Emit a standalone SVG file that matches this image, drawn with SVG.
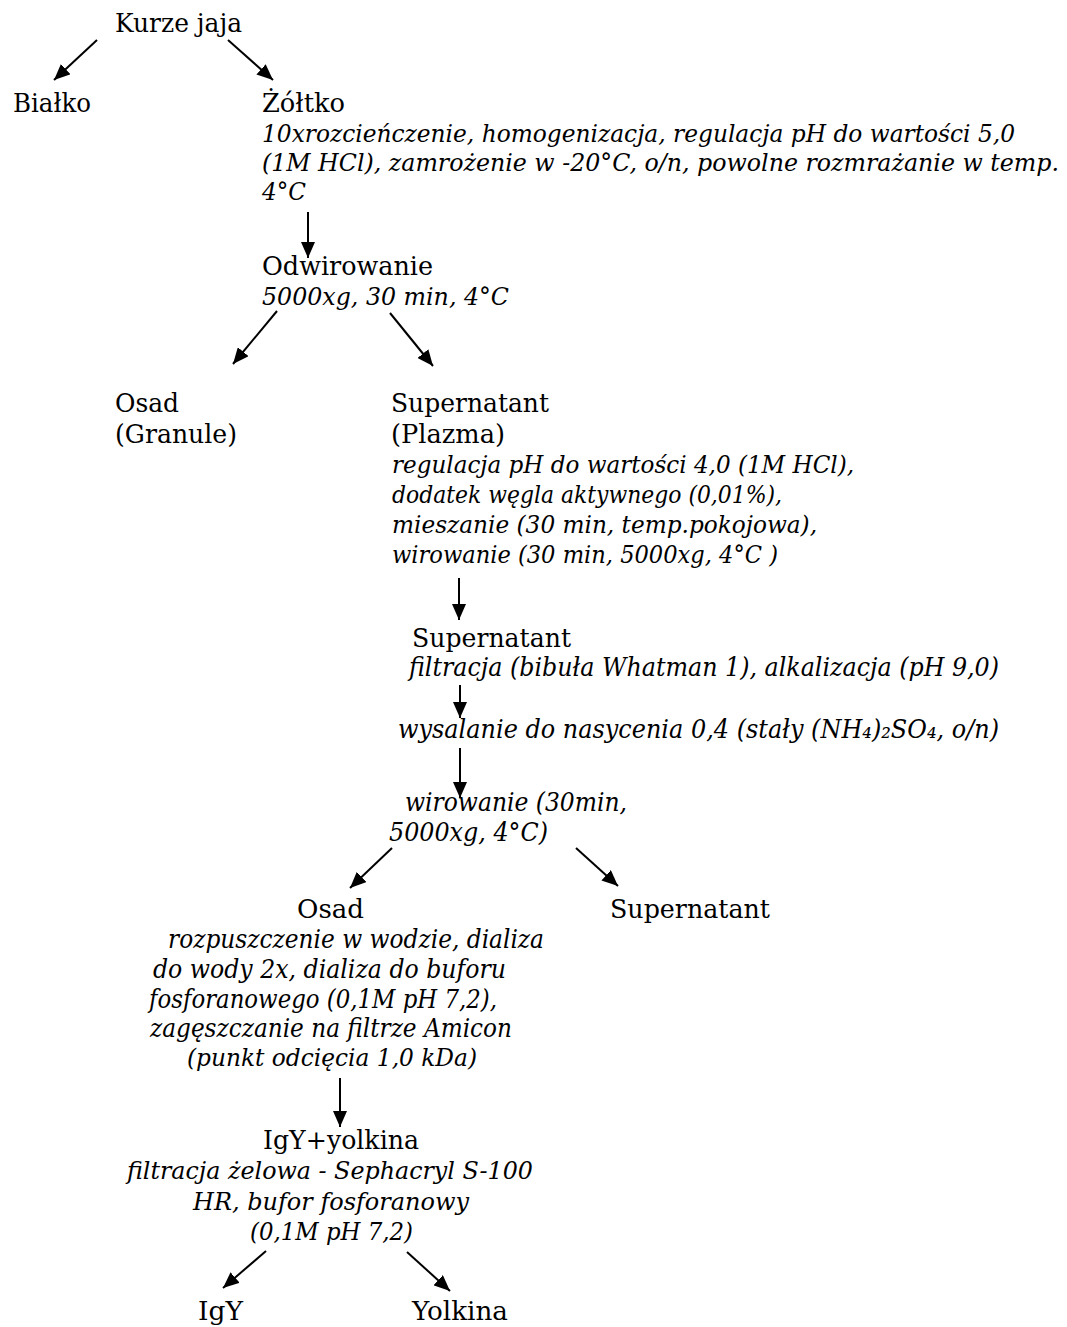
<svg xmlns="http://www.w3.org/2000/svg" width="1067" height="1327" viewBox="0 0 1067 1327">
  <style>
    .n { font-family: "DejaVu Serif", "Liberation Serif", serif; font-size: 26px; fill: #000; }
    .i { font-family: "DejaVu Serif", "Liberation Serif", serif; font-size: 24px; font-style: italic; fill: #000; }
    .c { font-family: "DejaVu Serif", "Liberation Serif", serif; font-size: 26px; font-style: italic; fill: #000; }
    .lk { stroke: #000; stroke-width: 2; fill: none; marker-end: url(#ah); }
  </style>
  <defs>
    <marker id="ah" markerUnits="userSpaceOnUse" markerWidth="16" markerHeight="14" refX="16" refY="7" orient="auto">
      <path d="M0,0 L16,7 L0,14 z" fill="#000"/>
    </marker>
  </defs>

  <rect width="1067" height="1327" fill="#fff"/>

  <!-- connectors -->
  <g id="connectors">
    <line class="lk" x1="97" y1="40" x2="54" y2="80"/>
    <line class="lk" x1="228" y1="40" x2="273" y2="80"/>
    <line class="lk" x1="308" y1="212" x2="308" y2="258"/>
    <line class="lk" x1="277" y1="311" x2="233" y2="364"/>
    <line class="lk" x1="390" y1="313" x2="433" y2="366"/>
    <line class="lk" x1="459" y1="578" x2="459" y2="620"/>
    <line class="lk" x1="460" y1="685" x2="460" y2="718"/>
    <line class="lk" x1="460" y1="748" x2="460" y2="798"/>
    <line class="lk" x1="392" y1="848" x2="350" y2="888"/>
    <line class="lk" x1="576" y1="848" x2="618" y2="886"/>
    <line class="lk" x1="340" y1="1078" x2="340" y2="1127"/>
    <line class="lk" x1="266" y1="1251" x2="223" y2="1288"/>
    <line class="lk" x1="407" y1="1252" x2="450" y2="1291"/>
  </g>

  <g id="eggs">
    <text class="n" x="115" y="32" textLength="127" lengthAdjust="spacingAndGlyphs">Kurze jaja</text>
  </g>

  <g id="white">
    <text class="n" x="13" y="112" textLength="78" lengthAdjust="spacingAndGlyphs">Białko</text>
  </g>

  <g id="yolk">
    <text class="n" x="262" y="112" textLength="83" lengthAdjust="spacingAndGlyphs">Żółtko</text>
    <text class="i" x="262" y="142" textLength="753" lengthAdjust="spacingAndGlyphs">10xrozcieńczenie, homogenizacja, regulacja pH do wartości 5,0</text>
    <text class="i" x="262" y="171" textLength="797" lengthAdjust="spacingAndGlyphs">(1M HCl), zamrożenie w -20°C, o/n, powolne rozmrażanie w temp.</text>
    <text class="i" x="262" y="200" textLength="44" lengthAdjust="spacingAndGlyphs">4°C</text>
  </g>

  <g id="spin1">
    <text class="n" x="262" y="275" textLength="171" lengthAdjust="spacingAndGlyphs">Odwirowanie</text>
    <text class="i" x="262" y="305" textLength="247" lengthAdjust="spacingAndGlyphs">5000xg, 30 min, 4°C</text>
  </g>

  <g id="granules">
    <text class="n" x="115" y="412" textLength="64" lengthAdjust="spacingAndGlyphs">Osad</text>
    <text class="n" x="115" y="443" textLength="122" lengthAdjust="spacingAndGlyphs">(Granule)</text>
  </g>

  <g id="plasma">
    <text class="n" x="391" y="412" textLength="158" lengthAdjust="spacingAndGlyphs">Supernatant</text>
    <text class="n" x="391" y="443" textLength="114" lengthAdjust="spacingAndGlyphs">(Plazma)</text>
    <text class="i" x="392" y="473" textLength="462" lengthAdjust="spacingAndGlyphs">regulacja pH do wartości 4,0 (1M HCl),</text>
    <text class="i" x="392" y="503" textLength="390" lengthAdjust="spacingAndGlyphs">dodatek węgla aktywnego (0,01%),</text>
    <text class="i" x="392" y="533" textLength="425" lengthAdjust="spacingAndGlyphs">mieszanie (30 min, temp.pokojowa),</text>
    <text class="i" x="392" y="563" textLength="386" lengthAdjust="spacingAndGlyphs">wirowanie (30 min, 5000xg, 4°C )</text>
  </g>

  <g id="supernatant2">
    <text class="n" x="412" y="647" textLength="159" lengthAdjust="spacingAndGlyphs">Supernatant</text>
    <text class="c" x="409" y="676" textLength="590" lengthAdjust="spacingAndGlyphs">filtracja (bibuła Whatman 1), alkalizacja (pH 9,0)</text>
  </g>

  <g id="salting">
    <text class="c" x="398" y="738" textLength="601" lengthAdjust="spacingAndGlyphs">wysalanie do nasycenia 0,4 (stały (NH₄)₂SO₄, o/n)</text>
  </g>

  <g id="spin2">
    <text class="c" x="405" y="811" textLength="222" lengthAdjust="spacingAndGlyphs">wirowanie (30min,</text>
    <text class="c" x="389" y="841" textLength="159" lengthAdjust="spacingAndGlyphs">5000xg, 4°C)</text>
  </g>

  <g id="pellet">
    <text class="n" x="297" y="918" textLength="67" lengthAdjust="spacingAndGlyphs">Osad</text>
    <text class="c" x="168" y="948" textLength="376" lengthAdjust="spacingAndGlyphs">rozpuszczenie w wodzie, dializa</text>
    <text class="c" x="153" y="978" textLength="353" lengthAdjust="spacingAndGlyphs">do wody 2x, dializa do buforu</text>
    <text class="c" x="149" y="1008" textLength="348" lengthAdjust="spacingAndGlyphs">fosforanowego (0,1M pH 7,2),</text>
    <text class="c" x="150" y="1037" textLength="362" lengthAdjust="spacingAndGlyphs">zagęszczanie na filtrze Amicon</text>
    <text class="i" x="187" y="1066" textLength="290" lengthAdjust="spacingAndGlyphs">(punkt odcięcia 1,0 kDa)</text>
  </g>

  <g id="supernatant3">
    <text class="n" x="610" y="918" textLength="160" lengthAdjust="spacingAndGlyphs">Supernatant</text>
  </g>

  <g id="igy-yolkin">
    <text class="n" x="263" y="1149" textLength="156" lengthAdjust="spacingAndGlyphs">IgY+yolkina</text>
    <text class="i" x="127" y="1179" textLength="406" lengthAdjust="spacingAndGlyphs">filtracja żelowa - Sephacryl S-100</text>
    <text class="i" x="193" y="1210" textLength="276" lengthAdjust="spacingAndGlyphs">HR, bufor fosforanowy</text>
    <text class="i" x="250" y="1240" textLength="163" lengthAdjust="spacingAndGlyphs">(0,1M pH 7,2)</text>
  </g>

  <g id="igy">
    <text class="n" x="198" y="1320" textLength="45" lengthAdjust="spacingAndGlyphs">IgY</text>
  </g>

  <g id="yolkin">
    <text class="n" x="412" y="1320" textLength="96" lengthAdjust="spacingAndGlyphs">Yolkina</text>
  </g>
</svg>
